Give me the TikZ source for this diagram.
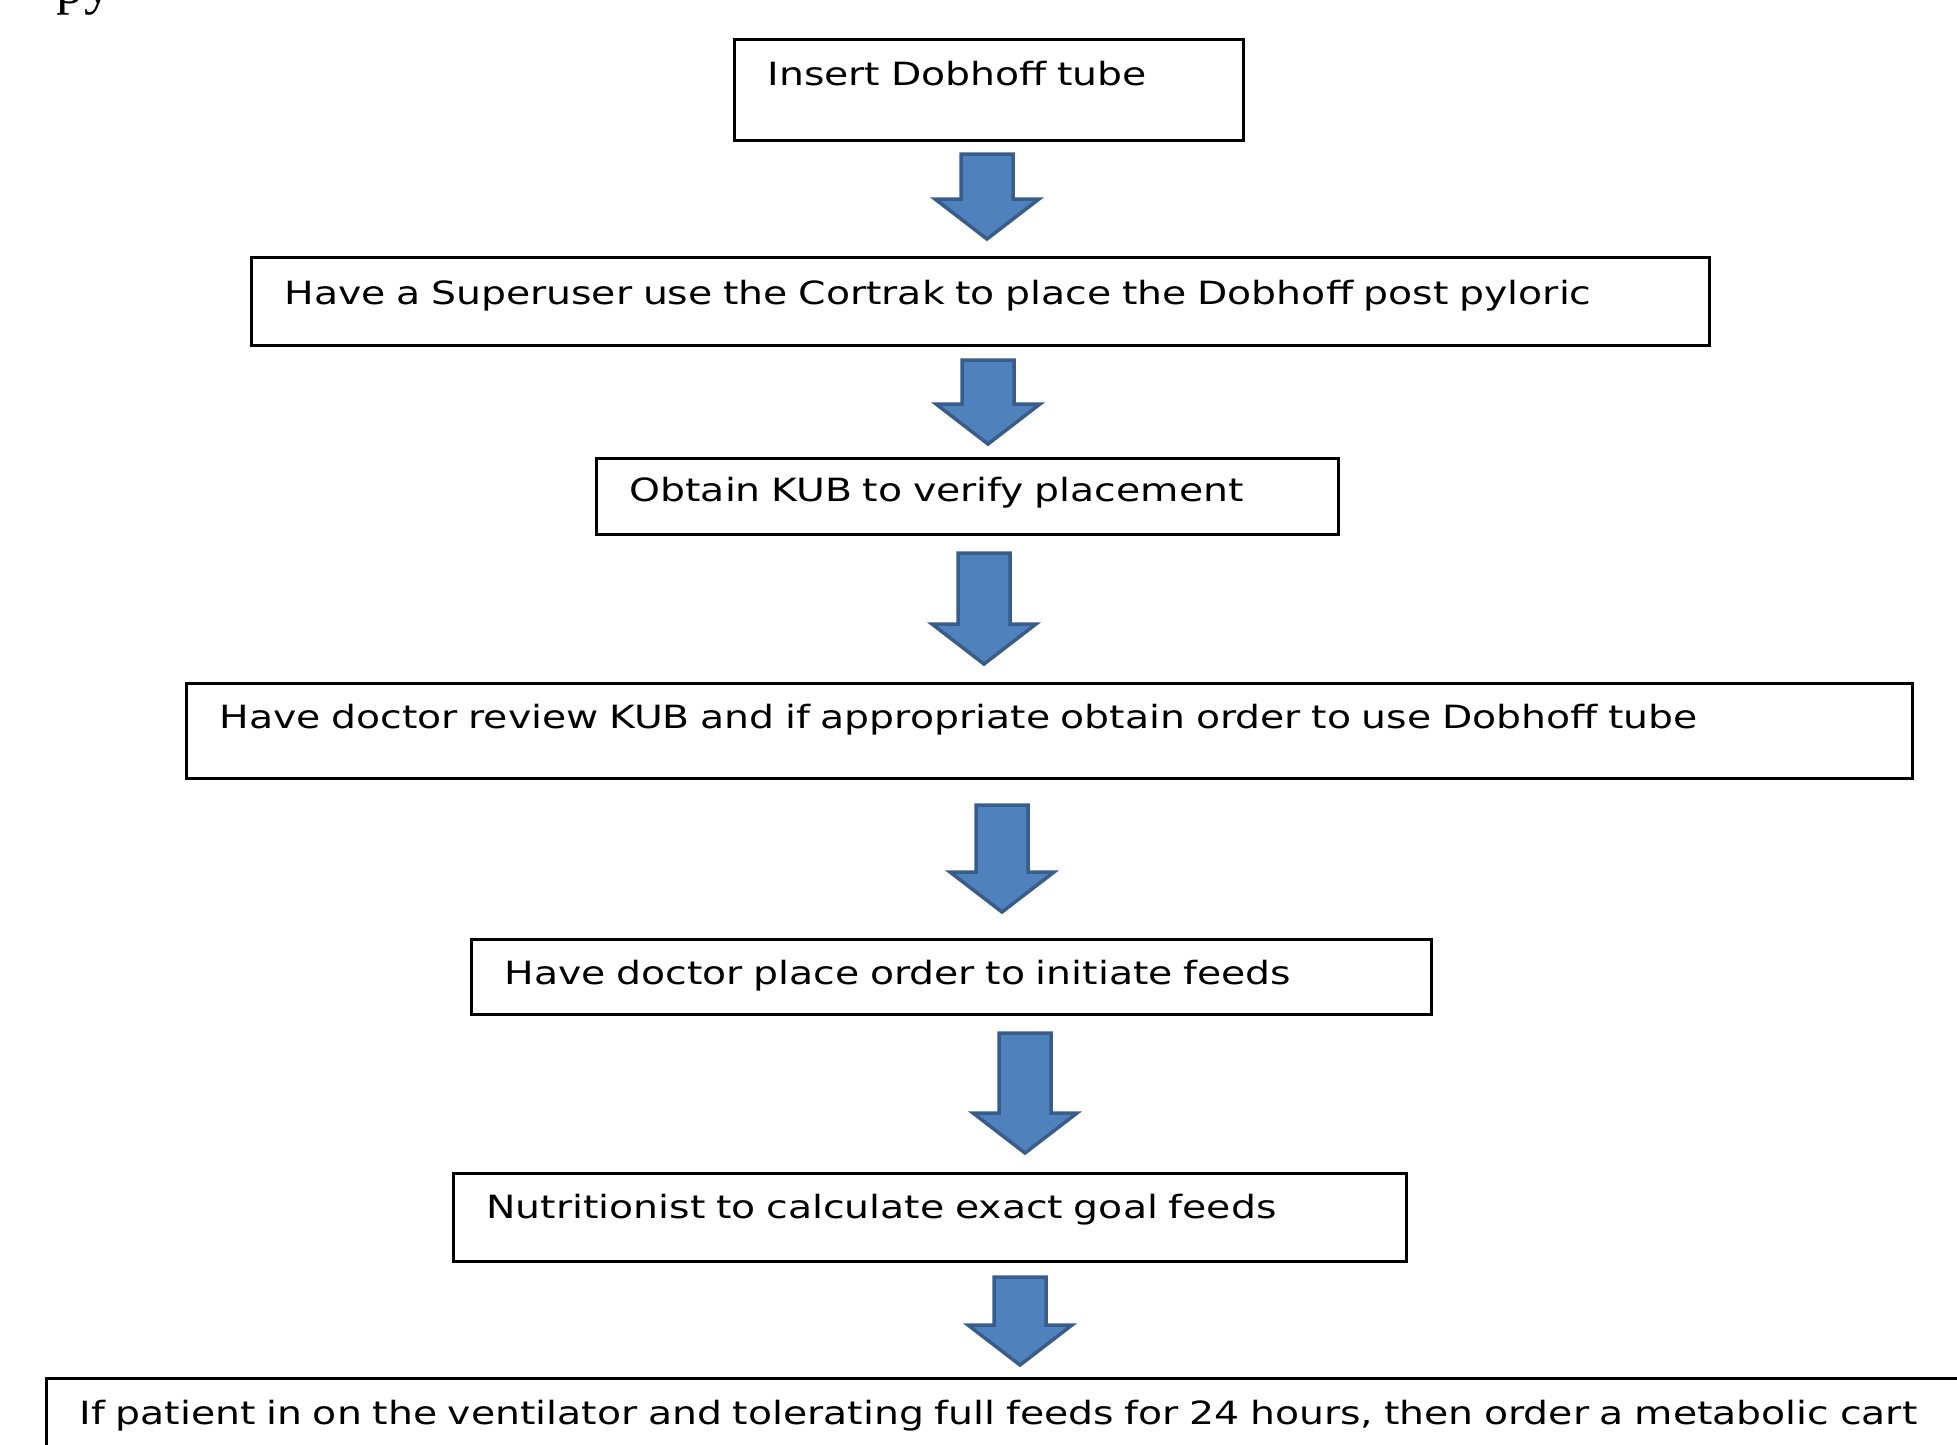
\documentclass[tikz,border=0pt]{standalone}
\usepackage{fontspec}
\setmainfont[FakeStretch=1.23]{DejaVu Sans}
\newfontfamily\pagefont{Liberation Serif}
\usepackage{xcolor}
\usetikzlibrary{calc}

\definecolor{arrowfill}{HTML}{4F81BD}
\definecolor{arrowline}{HTML}{385D8A}

\tikzset{
  stepbox/.style={draw, line width=0.85pt, anchor=north west, align=left,
    inner xsep=0.33cm, inner ysep=0pt, font=\fontsize{9.1pt}{11pt}\selectfont},
  blockarrow/.style={draw=arrowline, fill=arrowfill, line width=1pt, line join=miter}
}

% block arrow from tail (#1) down to tip (#2)
\newcommand{\downarrowblock}[2]{%
  \draw[blockarrow] ($(#1)+(-26,0)$) -- ($(#1)+(26,0)$) -- ($(#2)+(26,-40)$)
    -- ($(#2)+(52,-40)$) -- (#2) -- ($(#2)+(-52,-40)$) -- ($(#2)+(-26,-40)$) -- cycle;}

\begin{document}
\begin{tikzpicture}[x=0.01cm, y=-0.01cm]
  \useasboundingbox (0,0) rectangle (1957,1444);
  % text of the page above
  \node[anchor=base west, inner sep=0pt, font=\pagefont\fontsize{15.6pt}{18pt}\selectfont]
    (pagetext) at (56,3) {py};
  % steps
  \node[stepbox, text width=4.43cm, text height=0.46cm, text depth=0.55cm]
    (insert) at (733,38) {Insert Dobhoff tube};
  \node[stepbox, text width=13.91cm, text height=0.47cm, text depth=0.41cm]
    (cortrak) at (250,256) {Have a Superuser use the Cortrak to place the Dobhoff post pyloric};
  \node[stepbox, text width=6.76cm, text height=0.43cm, text depth=0.33cm]
    (kub) at (595,457) {Obtain KUB to verify placement};
  \node[stepbox, text width=16.59cm, text height=0.45cm, text depth=0.50cm]
    (review) at (185,682) {Have doctor review KUB and if appropriate obtain order to use Dobhoff tube};
  \node[stepbox, text width=8.93cm, text height=0.45cm, text depth=0.30cm]
    (order) at (470,938) {Have doctor place order to initiate feeds};
  \node[stepbox, text width=8.86cm, text height=0.45cm, text depth=0.43cm]
    (goal) at (452,1172) {Nutritionist to calculate exact goal feeds};
  \node[stepbox, text width=19.9cm, text height=0.46cm, text depth=0.6cm]
    (cart) at (45,1377) {If patient in on the ventilator and tolerating full feeds for 24 hours, then order a metabolic cart};
  % arrows
  \coordinate (a1) at ($(987,0 |- insert.south)+(0,12)$);
  \coordinate (a1tip) at ($(987,0 |- cortrak.north)+(0,-17)$);
  \coordinate (a2) at ($(988,0 |- cortrak.south)+(0,13)$);
  \coordinate (a2tip) at ($(988,0 |- kub.north)+(0,-13)$);
  \coordinate (a3) at ($(984,0 |- kub.south)+(0,17)$);
  \coordinate (a3tip) at ($(984,0 |- review.north)+(0,-18)$);
  \coordinate (a4) at ($(1002,0 |- review.south)+(0,25)$);
  \coordinate (a4tip) at ($(1002,0 |- order.north)+(0,-26)$);
  \coordinate (a5) at ($(1025,0 |- order.south)+(0,17)$);
  \coordinate (a5tip) at ($(1025,0 |- goal.north)+(0,-19)$);
  \coordinate (a6) at ($(1020,0 |- goal.south)+(0,14)$);
  \coordinate (a6tip) at ($(1020,0 |- cart.north)+(0,-12)$);
  \downarrowblock{a1}{a1tip}
  \downarrowblock{a2}{a2tip}
  \downarrowblock{a3}{a3tip}
  \downarrowblock{a4}{a4tip}
  \downarrowblock{a5}{a5tip}
  \downarrowblock{a6}{a6tip}
\end{tikzpicture}
\end{document}
